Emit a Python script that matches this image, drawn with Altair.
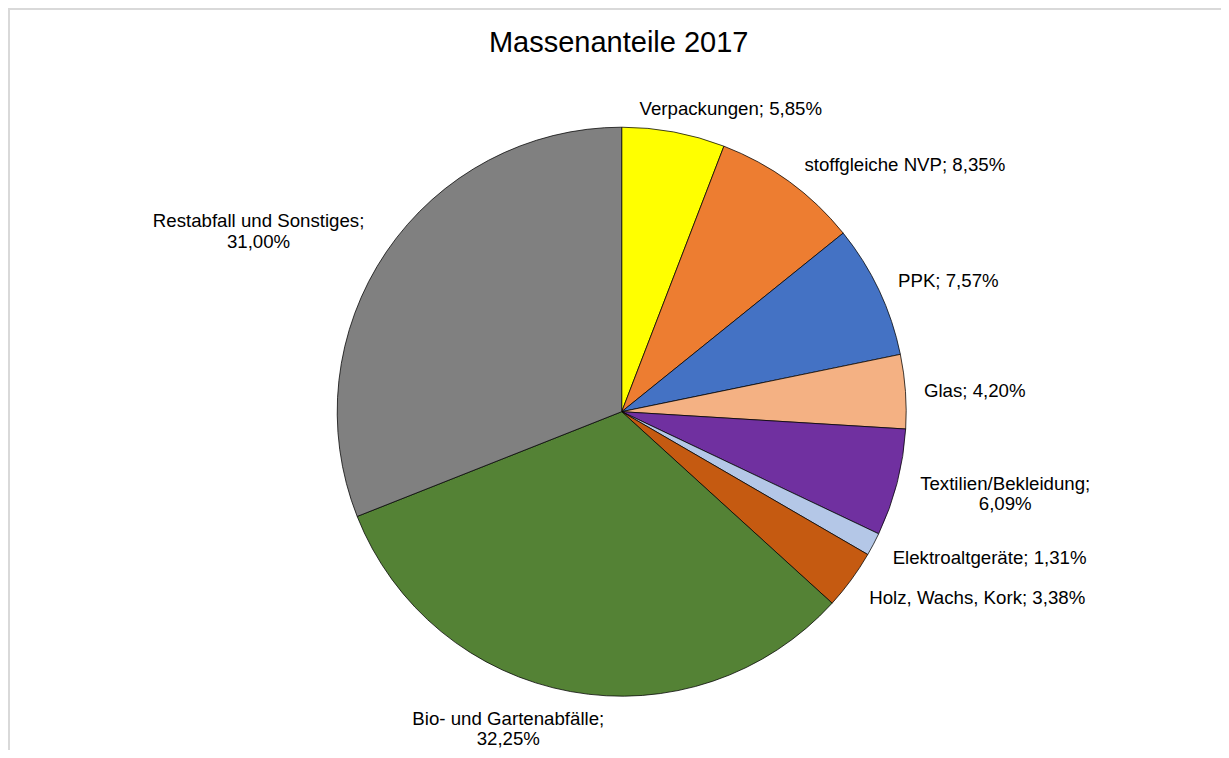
import altair as alt
import pandas as pd

# ---- data ----
categories = [
    "Verpackungen",
    "stoffgleiche NVP",
    "PPK",
    "Glas",
    "Textilien/Bekleidung",
    "Elektroaltgeräte",
    "Holz, Wachs, Kork",
    "Bio- und Gartenabfälle",
    "Restabfall und Sonstiges",
]
shares = [5.85, 8.35, 7.57, 4.20, 6.09, 1.31, 3.38, 32.25, 31.00]
colors = ["#FFFF00", "#ED7D31", "#4472C4", "#F4B183", "#7030A0",
          "#B4C7E7", "#C55A11", "#548235", "#808080"]
wrapped = {"Textilien/Bekleidung", "Bio- und Gartenabfälle", "Restabfall und Sonstiges"}

# ---- table built from the lists ----
def fmt(v):
    return f"{v:.2f}".replace(".", ",") + "%"

rows = []
acc = 0.0
for c, v in zip(categories, shares):
    sep = ";\n" if c in wrapped else "; "
    rows.append({"cat": c, "value": v, "start": acc, "end": acc + v,
                 "mid": acc + v / 2, "label": c + sep + fmt(v)})
    acc += v
df = pd.DataFrame(rows)
total = acc

# ---- layout / style ----
PAD = 1
W, H = 1225.4, 805.4
R = 284.5
R_LABEL = 300
FONT = "Liberation Sans"
FS = 18.67

label_style = {
    "Verpackungen": dict(align="left", dx=-37, dy=-8),
    "stoffgleiche NVP": dict(align="left", dx=6, dy=-4.5),
    "PPK": dict(align="left", dx=5, dy=-3),
    "Glas": dict(align="left", dx=3, dy=0.5),
    "Textilien/Bekleidung": dict(align="center", dx=93, dy=-3),
    "Elektroaltgeräte": dict(align="left", dx=5.5, dy=7),
    "Holz, Wachs, Kork": dict(align="left", dx=5.5, dy=9.5),
    "Bio- und Gartenabfälle": dict(align="center", dx=-59.5, dy=12),
    "Restabfall und Sonstiges": dict(align="center", dx=-115, dy=-22),
}

theta_scale = alt.Scale(domain=[0, total])
base = alt.Chart(df)

# light grey chart frame (the view's own rectangle)
frame = alt.Chart(pd.DataFrame({"frame": [0]})).mark_rect(
    filled=False, stroke="#d9d9d9", strokeWidth=2
).encode(x=alt.value(0), x2=alt.value("width"), y=alt.value(0), y2=alt.value("height"))

pie = base.mark_arc(radius=R, stroke="black", strokeWidth=0.75).encode(
    theta=alt.Theta("start:Q", scale=theta_scale),
    theta2="end:Q",
    color=alt.Color("cat:N", scale=alt.Scale(domain=categories, range=colors), legend=None),
)

texts = []
for c in categories:
    st = label_style[c]
    texts.append(
        base.transform_filter(alt.datum.cat == c)
        .mark_text(radius=R_LABEL, align=st["align"], baseline="middle",
                   dx=st["dx"], dy=st["dy"], font=FONT, fontSize=FS,
                   lineBreak="\n", lineHeight=20.5, color="#000000")
        .encode(theta=alt.Theta("mid:Q", scale=theta_scale), text="label:N")
    )

chart = (
    alt.layer(frame, pie, *texts)
    .properties(
        width=W,
        height=H,
        title=alt.TitleParams("Massenanteile 2017", font=FONT, fontSize=29,
                              fontWeight="normal", color="#000000",
                              anchor="middle", frame="group",
                              baseline="alphabetic", offset=0, dy=73, dx=-3),
        padding={"left": PAD, "top": PAD,
                 "right": 1213 - W - PAD, "bottom": 742 - H - PAD},
        autosize=alt.AutoSizeParams(type="none"),
    )
    .configure(background="white")
    .configure_view(stroke=None)
)

chart.save("out.html", embed_options={"renderer": "svg", "actions": False})
